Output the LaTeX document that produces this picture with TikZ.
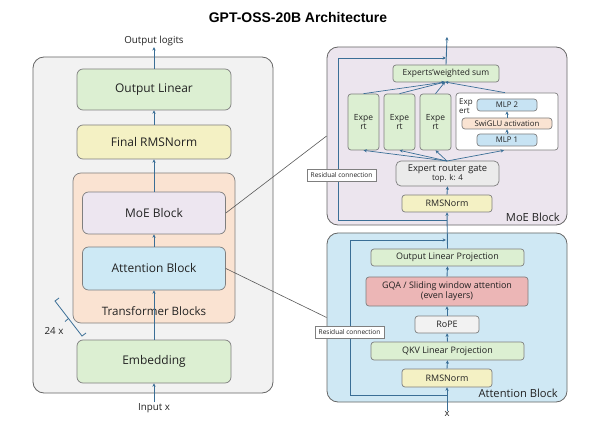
\documentclass[tikz,border=0pt]{standalone}
\usepackage{fontspec}
\setmainfont{Open Sans}
\newfontfamily\titlefont{Liberation Sans}
\usetikzlibrary{arrows.meta,calc}
\definecolor{ln}{HTML}{3A6E96}
\definecolor{bd}{HTML}{7F7F7F}
\definecolor{pbd}{HTML}{666666}
\definecolor{cgreen}{HTML}{DCEFD2}
\definecolor{cyellow}{HTML}{F4F1C4}
\definecolor{cpeach}{HTML}{FAE3D2}
\definecolor{clav}{HTML}{EDE6F0}
\definecolor{cblue}{HTML}{CDE9F5}
\definecolor{cpanel}{HTML}{F2F2F2}
\definecolor{cmoep}{HTML}{ECE5EE}
\definecolor{cattp}{HTML}{CFE8F4}
\definecolor{cred}{HTML}{ECB6B6}
\definecolor{cgrey}{HTML}{EBEBEB}
\definecolor{cmlp}{HTML}{C7E3F3}
\definecolor{txt}{HTML}{222222}
\newcommand{\fs}[1]{\fontsize{#1}{#1}\selectfont\setlength{\baselineskip}{1.15\dimexpr #1pt\relax}}
\begin{document}
\begin{tikzpicture}[x=1bp,y=-1bp,
  every node/.style={text=txt},
  box/.style={draw=bd, line width=0.7bp, rounded corners=5bp, align=center, inner sep=0pt},
  sbox/.style={box, rounded corners=3bp},
  panel/.style={draw=pbd, line width=0.8bp, rounded corners=11bp, inner sep=0pt},
  arr/.style={draw=ln, line width=0.9bp, -{Stealth[length=3.4bp,width=3.2bp]}},
  lin/.style={draw=ln, line width=0.9bp},
  conn/.style={draw=black!65, line width=0.6bp},
  lbl/.style={inner sep=1bp, align=center},
  rlbl/.style={draw=bd, fill=white, line width=0.5bp, inner sep=0pt, minimum width=69bp, minimum height=12bp, font=\fs{6.6}}
]
\useasboundingbox[fill=white] (0,0) rectangle (597,437);

% title
\node[lbl, font=\titlefont\fs{14}\bfseries, text=black] (title) at (298,18) {GPT-OSS-20B Architecture};

% ---------- left panel ----------
\node[panel, fill=cpanel, minimum width=240bp, minimum height=336bp] (lpanel) at (153,225) {};
\node[lbl, font=\fs{9.8}] (logits) at (154,41) {Output logits};
\node[box, fill=cgreen, minimum width=154bp, minimum height=41bp, rounded corners=6bp, font=\fs{12}] (outlin) at (154,89.5) {Output Linear};
\node[box, fill=cyellow, minimum width=154bp, minimum height=34bp, rounded corners=6bp, font=\fs{12}] (frms) at (154,142) {Final RMSNorm};
\node[box, fill=cpeach, minimum width=162bp, minimum height=150bp, rounded corners=8bp] (tblk) at (154,248) {};
\node[box, fill=clav, minimum width=143bp, minimum height=42bp, rounded corners=6bp, font=\fs{12}] (moe) at (154,213) {MoE Block};
\node[box, fill=cblue, minimum width=143bp, minimum height=43bp, rounded corners=6bp, font=\fs{12}] (attn) at (154,268.5) {Attention Block};
\node[lbl, font=\fs{11.6}] (tlabel) at (154,311) {Transformer Blocks};
\node[box, fill=cgreen, minimum width=154bp, minimum height=43bp, rounded corners=6bp, font=\fs{12}] (emb) at (154,361.5) {Embedding};
\node[lbl, font=\fs{9.8}] (inx) at (154,408) {Input x};

\draw[arr] (inx.north) -- (emb.south);
\draw[arr] (emb.north) -- (attn.south);
\draw[arr] (attn.north) -- (moe.south);
\draw[arr] (moe.north) -- (frms.south);
\draw[arr] (frms.north) -- (outlin.south);
\draw[arr] (outlin.north) -- (logits.south);

% 24 x bracket
\coordinate (b1) at (55,301);
\coordinate (b2) at (82,336);
\coordinate (bm) at (68.5,318.5);
\draw[lin, line width=0.8bp] ($(b1)+(4,-3)$) -- (b1) -- (b2) -- ($(b2)+(4,-3)$);
\draw[lin, line width=0.8bp] (bm) -- ($(bm)+(-3.5,3)$);
\node[lbl, font=\fs{9.8}] (rep) at (54,331) {24 x};

% ---------- MoE panel ----------
\node[panel, fill=cmoep, minimum width=240bp, minimum height=178bp] (moep) at (447,136) {};
\node[lbl, font=\fs{11.2}, anchor=east] (moelbl) at (561,217) {MoE Block};
\node[sbox, fill=cgreen, minimum width=106bp, minimum height=17bp, font=\fs{8.5}] (wsum) at (446,73.5) {Experts'weighted sum};
\node[sbox, fill=cgreen, minimum width=31bp, minimum height=56bp, font=\fs{8.5}] (e1) at (363.5,122) {Expe\\rt};
\node[sbox, fill=cgreen, minimum width=31bp, minimum height=56bp, font=\fs{8.5}] (e2) at (399.5,122) {Expe\\rt};
\node[sbox, fill=cgreen, minimum width=31bp, minimum height=56bp, font=\fs{8.5}] (e3) at (435.5,122) {Expe\\rt};
\node[sbox, fill=white, minimum width=102bp, minimum height=57bp] (edet) at (507,121.5) {};
\node[lbl, font=\fs{8}, anchor=west, align=left, inner sep=0pt] (elbl) at (459,106) {Exp\\ert};
\node[sbox, fill=cmlp, minimum width=60bp, minimum height=12bp, font=\fs{7.8}] (mlp2) at (507,105) {MLP 2};
\node[sbox, fill=cpeach, minimum width=90bp, minimum height=11bp, font=\fs{7.8}] (swi) at (507,123.5) {SwiGLU activation};
\node[sbox, fill=cmlp, minimum width=60bp, minimum height=12bp, font=\fs{7.8}] (mlp1) at (507,140) {MLP 1};
\node[box, fill=cgrey, minimum width=103bp, minimum height=25bp, font=\fs{9.4}] (gate) at (447.5,173.5) {Expert router gate\\[-1.5bp]{\fs{8}top. k: 4}};
\node[sbox, fill=cyellow, minimum width=90bp, minimum height=17bp, font=\fs{9}] (mrms) at (447,203.5) {RMSNorm};

\draw[arr, line width=0.6bp] (mlp1.north) -- (swi.south);
\draw[arr, line width=0.6bp] (swi.north) -- (mlp2.south);

\coordinate (gtop) at (447,161);
\draw[arr, line width=0.7bp] (gtop) -- (e1.south);
\draw[arr, line width=0.7bp] (gtop) -- (e2.south);
\draw[arr, line width=0.7bp] (gtop) -- (e3.south);
\draw[arr, line width=0.7bp] (gtop) -- ([xshift=-3bp]edet.south);
\coordinate (wbot) at (445,82);
\draw[arr, line width=0.7bp] (e1.north) -- (wbot);
\draw[arr, line width=0.7bp] (e2.north) -- (wbot);
\draw[arr, line width=0.7bp] (e3.north) -- (wbot);
\draw[arr, line width=0.7bp] ([xshift=-2bp]edet.north) -- (wbot);
\draw[arr] (mrms.north) -- (gate.south);
\coordinate (top) at (447,37);
\draw[arr] (wsum.north) -- (top);

\coordinate (mra) at (447,220);
\coordinate (mrl) at (338,58);
\coordinate (mrb) at (446,58);
\draw[arr] (mra) -| (mrl) -- (mrb);
\node[rlbl] (res1) at (341.5,175) {Residual connection};

% ---------- Attention panel ----------
\node[panel, fill=cattp, minimum width=240bp, minimum height=169bp] (attp) at (447,317.5) {};
\node[lbl, font=\fs{11.2}, anchor=east] (attlbl) at (559,393) {Attention Block};
\node[sbox, fill=cgreen, minimum width=153bp, minimum height=17bp, font=\fs{9}] (olp) at (447.5,257.5) {Output Linear Projection};
\node[sbox, fill=cred, minimum width=162bp, minimum height=29bp, font=\fs{9}] (gqa) at (447,291.5) {GQA / Sliding window attention\\(even layers)};
\node[sbox, fill=cpanel, minimum width=64bp, minimum height=17bp, font=\fs{9}] (rope) at (447,324.5) {RoPE};
\node[sbox, fill=cgreen, minimum width=153bp, minimum height=18bp, font=\fs{9}] (qkv) at (447.5,351) {QKV Linear Projection};
\node[sbox, fill=cyellow, minimum width=90bp, minimum height=18bp, font=\fs{9}] (arms) at (447,378) {RMSNorm};
\node[lbl, font=\fs{9.5}, inner sep=0pt] (xin) at (447,414) {x};

\draw[arr] (xin.north) -- (arms.south);
\draw[arr] (arms.north) -- (qkv.south);
\draw[arr] (qkv.north) -- (rope.south);
\draw[arr] (rope.north) -- (gqa.south);
\draw[arr] (gqa.north) -- (olp.south);
\draw[arr] (olp.north) -- (mrms.south);

\coordinate (ra) at (447,395);
\coordinate (rl) at (350,240);
\coordinate (rb) at (446,240);
\draw[arr] (ra) -| (rl) -- (rb);
\node[rlbl] (res2) at (349.5,332) {Residual connection};

% ---------- zoom connectors ----------
\draw[conn] (moe.east) -- (moep.west);
\draw[conn] (attn.east) -- (attp.west);
\end{tikzpicture}
\end{document}
